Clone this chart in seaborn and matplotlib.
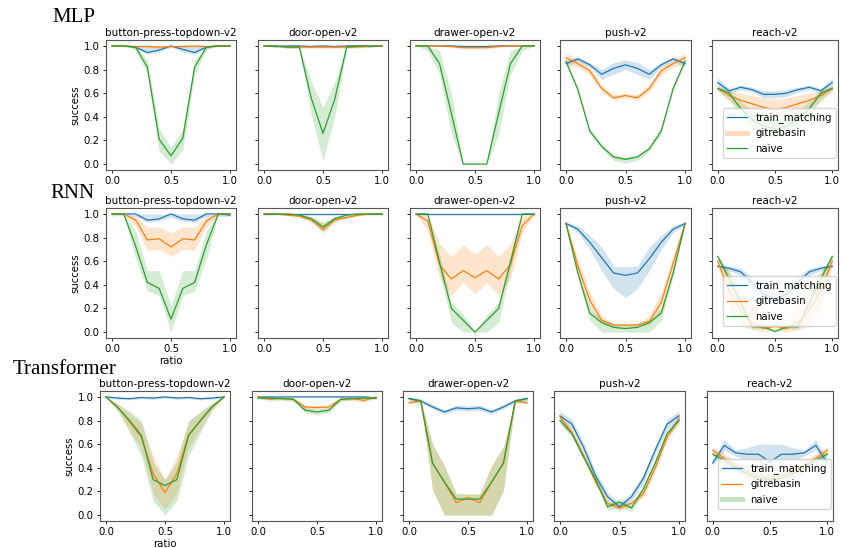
import matplotlib
matplotlib.use("Agg")
import matplotlib.pyplot as plt
from matplotlib.lines import Line2D
import pandas as pd
import seaborn as sns

RATIO = [0.0, 0.1, 0.2, 0.3, 0.4, 0.5, 0.6, 0.7, 0.8, 0.9, 1.0]
ROWS = ["MLP", "RNN", "Transformer"]
TASKS = ["button-press-topdown-v2", "door-open-v2", "drawer-open-v2", "push-v2", "reach-v2"]
METHODS = ["train_matching", "gitrebasin", "naive"]
XTICKS = [0.0, 0.5, 1.0]
YTICKS = [0.0, 0.2, 0.4, 0.6, 0.8, 1.0]

# ---------------- MLP ----------------
MLP_BPT_TM = [1.0, 1.0, 0.99, 0.944, 0.965, 1.0, 0.97, 0.944, 0.99, 1.0, 1.0]
MLP_BPT_TM_LO = [1.0, 1.0, 0.98, 0.93, 0.95, 0.99, 0.95, 0.93, 0.98, 1.0, 1.0]
MLP_BPT_TM_HI = [1.0, 1.0, 1.0, 1.0, 1.0, 1.0, 1.0, 1.0, 1.0, 1.0, 1.0]
MLP_BPT_GR = [1.0, 1.0, 0.995, 0.995, 0.99, 0.995, 0.995, 1.0, 0.995, 1.0, 1.0]
MLP_BPT_GR_LO = [1.0, 0.99, 0.985, 0.985, 0.98, 0.985, 0.985, 0.99, 0.985, 0.99, 1.0]
MLP_BPT_GR_HI = [1.0, 1.0, 1.0, 1.0, 1.0, 1.0, 1.0, 1.0, 1.0, 1.0, 1.0]
MLP_BPT_NV = [1.0, 1.0, 0.99, 0.82, 0.21, 0.07, 0.22, 0.82, 0.99, 1.0, 1.0]
MLP_BPT_NV_LO = [1.0, 1.0, 0.97, 0.76, 0.11, 0.0, 0.12, 0.76, 0.97, 1.0, 1.0]
MLP_BPT_NV_HI = [1.0, 1.0, 1.0, 0.88, 0.30, 0.14, 0.30, 0.88, 1.0, 1.0, 1.0]

MLP_DOOR_TM = [1.0, 0.995, 1.0, 1.0, 0.995, 1.0, 0.995, 1.0, 1.0, 0.995, 1.0]
MLP_DOOR_TM_LO = [1.0, 0.985, 0.99, 0.99, 0.985, 0.99, 0.985, 0.99, 0.99, 0.985, 1.0]
MLP_DOOR_TM_HI = [1.0, 1.0, 1.0, 1.0, 1.0, 1.0, 1.0, 1.0, 1.0, 1.0, 1.0]
MLP_DOOR_GR = [1.0, 1.0, 0.99, 0.99, 0.99, 0.99, 0.99, 0.99, 0.99, 1.0, 1.0]
MLP_DOOR_GR_LO = [1.0, 0.99, 0.98, 0.98, 0.98, 0.98, 0.98, 0.98, 0.98, 0.99, 1.0]
MLP_DOOR_GR_HI = [1.0, 1.0, 1.0, 1.0, 1.0, 1.0, 1.0, 1.0, 1.0, 1.0, 1.0]
MLP_DOOR_NV = [1.0, 1.0, 0.99, 0.99, 0.56, 0.26, 0.55, 0.99, 1.0, 1.0, 1.0]
MLP_DOOR_NV_LO = [1.0, 1.0, 0.98, 0.98, 0.42, 0.03, 0.40, 0.98, 1.0, 1.0, 1.0]
MLP_DOOR_NV_HI = [1.0, 1.0, 1.0, 1.0, 0.70, 0.48, 0.70, 1.0, 1.0, 1.0, 1.0]

MLP_DRAWER_TM = [1.0, 1.0, 1.0, 1.0, 0.995, 0.995, 0.995, 1.0, 1.0, 1.0, 1.0]
MLP_DRAWER_TM_LO = [1.0, 1.0, 1.0, 0.995, 0.99, 0.99, 0.99, 0.995, 1.0, 1.0, 1.0]
MLP_DRAWER_TM_HI = [1.0, 1.0, 1.0, 1.0, 1.0, 1.0, 1.0, 1.0, 1.0, 1.0, 1.0]
MLP_DRAWER_GR = [1.0, 1.0, 1.0, 0.995, 0.985, 0.985, 0.985, 0.995, 1.0, 1.0, 1.0]
MLP_DRAWER_GR_LO = [1.0, 1.0, 0.995, 0.985, 0.975, 0.975, 0.975, 0.985, 0.995, 1.0, 1.0]
MLP_DRAWER_GR_HI = [1.0, 1.0, 1.0, 1.0, 0.995, 0.995, 0.995, 1.0, 1.0, 1.0, 1.0]
MLP_DRAWER_NV = [1.0, 1.0, 0.85, 0.43, 0.0, 0.0, 0.0, 0.43, 0.85, 1.0, 1.0]
MLP_DRAWER_NV_LO = [1.0, 0.96, 0.76, 0.25, 0.0, 0.0, 0.0, 0.25, 0.76, 0.96, 1.0]
MLP_DRAWER_NV_HI = [1.0, 1.0, 0.96, 0.60, 0.0, 0.0, 0.0, 0.60, 0.96, 1.0, 1.0]

MLP_PUSH_TM = [0.85, 0.89, 0.84, 0.76, 0.81, 0.84, 0.81, 0.76, 0.84, 0.89, 0.85]
MLP_PUSH_TM_LO = [0.82, 0.87, 0.82, 0.72, 0.76, 0.80, 0.76, 0.72, 0.82, 0.87, 0.82]
MLP_PUSH_TM_HI = [0.88, 0.91, 0.86, 0.80, 0.86, 0.88, 0.86, 0.80, 0.86, 0.91, 0.88]
MLP_PUSH_GR = [0.90, 0.85, 0.79, 0.64, 0.56, 0.58, 0.56, 0.64, 0.79, 0.85, 0.90]
MLP_PUSH_GR_LO = [0.85, 0.82, 0.75, 0.61, 0.54, 0.56, 0.54, 0.61, 0.75, 0.82, 0.85]
MLP_PUSH_GR_HI = [0.94, 0.88, 0.82, 0.67, 0.59, 0.60, 0.59, 0.67, 0.82, 0.88, 0.94]
MLP_PUSH_NV = [0.87, 0.63, 0.28, 0.15, 0.06, 0.04, 0.06, 0.13, 0.28, 0.64, 0.87]
MLP_PUSH_NV_LO = [0.86, 0.61, 0.26, 0.13, 0.03, 0.01, 0.03, 0.11, 0.26, 0.62, 0.86]
MLP_PUSH_NV_HI = [0.88, 0.65, 0.30, 0.17, 0.08, 0.06, 0.08, 0.15, 0.30, 0.66, 0.88]

MLP_REACH_TM = [0.69, 0.62, 0.65, 0.63, 0.59, 0.59, 0.60, 0.63, 0.65, 0.62, 0.69]
MLP_REACH_TM_LO = [0.66, 0.60, 0.63, 0.61, 0.56, 0.56, 0.57, 0.61, 0.63, 0.60, 0.66]
MLP_REACH_TM_HI = [0.73, 0.64, 0.67, 0.65, 0.62, 0.62, 0.63, 0.65, 0.67, 0.64, 0.73]
MLP_REACH_GR = [0.64, 0.58, 0.54, 0.51, 0.48, 0.46, 0.48, 0.51, 0.54, 0.58, 0.64]
MLP_REACH_GR_LO = [0.62, 0.53, 0.47, 0.45, 0.42, 0.41, 0.42, 0.45, 0.47, 0.53, 0.62]
MLP_REACH_GR_HI = [0.66, 0.62, 0.60, 0.58, 0.56, 0.55, 0.56, 0.58, 0.60, 0.62, 0.66]
MLP_REACH_NV = [0.64, 0.60, 0.47, 0.38, 0.32, 0.30, 0.32, 0.38, 0.47, 0.60, 0.64]
MLP_REACH_NV_LO = [0.62, 0.55, 0.40, 0.30, 0.24, 0.22, 0.24, 0.30, 0.40, 0.55, 0.62]
MLP_REACH_NV_HI = [0.66, 0.63, 0.53, 0.45, 0.40, 0.38, 0.40, 0.45, 0.53, 0.63, 0.66]

# ---------------- RNN ----------------
RNN_BPT_TM = [1.0, 1.0, 1.0, 0.947, 0.958, 1.0, 0.958, 0.947, 1.0, 1.0, 0.99]
RNN_BPT_TM_LO = [0.98, 0.99, 0.98, 0.93, 0.94, 0.97, 0.94, 0.93, 0.98, 0.98, 0.98]
RNN_BPT_TM_HI = [1.0, 1.0, 1.0, 1.0, 1.0, 1.0, 1.0, 1.0, 1.0, 1.0, 1.0]
RNN_BPT_GR = [1.0, 1.0, 0.95, 0.78, 0.79, 0.72, 0.79, 0.78, 0.94, 1.0, 1.0]
RNN_BPT_GR_LO = [1.0, 0.99, 0.90, 0.69, 0.70, 0.64, 0.70, 0.69, 0.89, 0.99, 1.0]
RNN_BPT_GR_HI = [1.0, 1.0, 0.98, 0.89, 0.89, 0.84, 0.89, 0.89, 0.98, 1.0, 1.0]
RNN_BPT_NV = [1.0, 1.0, 0.73, 0.42, 0.37, 0.11, 0.37, 0.42, 0.74, 1.0, 1.0]
RNN_BPT_NV_LO = [1.0, 1.0, 0.62, 0.35, 0.31, 0.0, 0.31, 0.35, 0.62, 1.0, 1.0]
RNN_BPT_NV_HI = [1.0, 1.0, 0.86, 0.52, 0.52, 0.22, 0.52, 0.52, 0.86, 1.0, 1.0]

RNN_DOOR_TM = [1.0, 1.0, 1.0, 1.0, 1.0, 1.0, 1.0, 1.0, 1.0, 1.0, 1.0]
RNN_DOOR_TM_LO = [1.0, 1.0, 1.0, 1.0, 1.0, 1.0, 1.0, 1.0, 1.0, 1.0, 1.0]
RNN_DOOR_TM_HI = [1.0, 1.0, 1.0, 1.0, 1.0, 1.0, 1.0, 1.0, 1.0, 1.0, 1.0]
RNN_DOOR_GR = [1.0, 1.0, 0.99, 0.98, 0.95, 0.87, 0.95, 0.97, 0.99, 1.0, 1.0]
RNN_DOOR_GR_LO = [1.0, 1.0, 0.98, 0.97, 0.93, 0.85, 0.93, 0.96, 0.98, 1.0, 1.0]
RNN_DOOR_GR_HI = [1.0, 1.0, 1.0, 0.99, 0.97, 0.92, 0.97, 0.98, 1.0, 1.0, 1.0]
RNN_DOOR_NV = [1.0, 1.0, 1.0, 0.99, 0.96, 0.89, 0.96, 0.99, 1.0, 1.0, 1.0]
RNN_DOOR_NV_LO = [1.0, 1.0, 1.0, 0.98, 0.94, 0.84, 0.94, 0.98, 1.0, 1.0, 1.0]
RNN_DOOR_NV_HI = [1.0, 1.0, 1.0, 1.0, 0.98, 0.93, 0.98, 1.0, 1.0, 1.0, 1.0]

RNN_DRAWER_TM = [1.0, 1.0, 1.0, 1.0, 1.0, 1.0, 1.0, 1.0, 1.0, 1.0, 1.0]
RNN_DRAWER_TM_LO = [1.0, 1.0, 1.0, 1.0, 1.0, 1.0, 1.0, 1.0, 1.0, 1.0, 1.0]
RNN_DRAWER_TM_HI = [1.0, 1.0, 1.0, 1.0, 1.0, 1.0, 1.0, 1.0, 1.0, 1.0, 1.0]
RNN_DRAWER_GR = [1.0, 0.94, 0.57, 0.45, 0.52, 0.46, 0.52, 0.45, 0.57, 0.90, 1.0]
RNN_DRAWER_GR_LO = [1.0, 0.86, 0.45, 0.31, 0.42, 0.32, 0.42, 0.31, 0.45, 0.84, 1.0]
RNN_DRAWER_GR_HI = [1.0, 1.0, 0.75, 0.64, 0.74, 0.66, 0.74, 0.64, 0.75, 0.98, 1.0]
RNN_DRAWER_NV = [1.0, 1.0, 0.59, 0.20, 0.10, 0.0, 0.10, 0.20, 0.59, 1.0, 1.0]
RNN_DRAWER_NV_LO = [1.0, 1.0, 0.52, 0.08, 0.0, 0.0, 0.0, 0.08, 0.52, 1.0, 1.0]
RNN_DRAWER_NV_HI = [1.0, 1.0, 0.66, 0.25, 0.15, 0.0, 0.15, 0.25, 0.66, 1.0, 1.0]

RNN_PUSH_TM = [0.92, 0.87, 0.76, 0.63, 0.50, 0.48, 0.50, 0.62, 0.76, 0.87, 0.92]
RNN_PUSH_TM_LO = [0.91, 0.84, 0.70, 0.52, 0.37, 0.29, 0.37, 0.52, 0.70, 0.84, 0.91]
RNN_PUSH_TM_HI = [0.93, 0.90, 0.82, 0.72, 0.56, 0.55, 0.56, 0.72, 0.82, 0.90, 0.93]
RNN_PUSH_GR = [0.92, 0.56, 0.27, 0.10, 0.06, 0.06, 0.06, 0.09, 0.25, 0.58, 0.92]
RNN_PUSH_GR_LO = [0.91, 0.50, 0.20, 0.07, 0.05, 0.05, 0.05, 0.06, 0.18, 0.52, 0.91]
RNN_PUSH_GR_HI = [0.93, 0.62, 0.34, 0.14, 0.07, 0.07, 0.07, 0.14, 0.34, 0.64, 0.93]
RNN_PUSH_NV = [0.92, 0.50, 0.16, 0.08, 0.04, 0.03, 0.04, 0.08, 0.16, 0.50, 0.92]
RNN_PUSH_NV_LO = [0.91, 0.47, 0.10, 0.0, 0.0, 0.0, 0.0, 0.0, 0.10, 0.47, 0.91]
RNN_PUSH_NV_HI = [0.93, 0.53, 0.20, 0.11, 0.07, 0.06, 0.07, 0.11, 0.20, 0.53, 0.93]

RNN_REACH_TM = [0.557, 0.54, 0.51, 0.42, 0.32, 0.28, 0.32, 0.42, 0.51, 0.54, 0.557]
RNN_REACH_TM_LO = [0.54, 0.52, 0.48, 0.37, 0.27, 0.23, 0.27, 0.37, 0.48, 0.52, 0.54]
RNN_REACH_TM_HI = [0.57, 0.56, 0.54, 0.47, 0.37, 0.33, 0.37, 0.47, 0.54, 0.56, 0.57]
RNN_REACH_GR = [0.60, 0.35, 0.18, 0.08, 0.03, 0.05, 0.03, 0.08, 0.18, 0.35, 0.60]
RNN_REACH_GR_LO = [0.57, 0.20, 0.06, 0.02, 0.0, 0.03, 0.0, 0.02, 0.06, 0.20, 0.57]
RNN_REACH_GR_HI = [0.63, 0.52, 0.38, 0.25, 0.08, 0.07, 0.08, 0.25, 0.38, 0.52, 0.63]
RNN_REACH_NV = [0.64, 0.45, 0.25, 0.045, 0.045, 0.005, 0.045, 0.045, 0.25, 0.45, 0.64]
RNN_REACH_NV_LO = [0.62, 0.40, 0.20, 0.03, 0.03, 0.0, 0.03, 0.03, 0.20, 0.40, 0.62]
RNN_REACH_NV_HI = [0.66, 0.50, 0.30, 0.06, 0.06, 0.01, 0.06, 0.06, 0.30, 0.50, 0.66]

# ---------------- Transformer ----------------
TRF_BPT_TM = [1.0, 0.99, 0.985, 0.995, 0.99, 1.0, 0.99, 0.995, 0.985, 0.99, 1.0]
TRF_BPT_TM_LO = [0.99, 0.98, 0.975, 0.985, 0.98, 0.99, 0.98, 0.985, 0.975, 0.98, 0.99]
TRF_BPT_TM_HI = [1.0, 1.0, 0.995, 1.0, 1.0, 1.0, 1.0, 1.0, 0.995, 1.0, 1.0]
TRF_BPT_GR = [1.0, 0.915, 0.79, 0.66, 0.35, 0.19, 0.35, 0.68, 0.80, 0.915, 1.0]
TRF_BPT_GR_LO = [1.0, 0.89, 0.72, 0.55, 0.18, 0.05, 0.18, 0.57, 0.73, 0.89, 1.0]
TRF_BPT_GR_HI = [1.0, 0.94, 0.86, 0.78, 0.50, 0.30, 0.50, 0.79, 0.87, 0.94, 1.0]
TRF_BPT_NV = [1.0, 0.91, 0.80, 0.675, 0.30, 0.25, 0.30, 0.675, 0.80, 0.92, 1.0]
TRF_BPT_NV_LO = [1.0, 0.88, 0.70, 0.50, 0.12, 0.0, 0.12, 0.50, 0.70, 0.89, 1.0]
TRF_BPT_NV_HI = [1.0, 0.94, 0.88, 0.80, 0.45, 0.30, 0.45, 0.80, 0.88, 0.95, 1.0]

TRF_DOOR_TM = [1.0, 1.0, 1.0, 1.0, 1.0, 1.0, 1.0, 1.0, 1.0, 1.0, 0.99]
TRF_DOOR_TM_LO = [0.995, 0.995, 0.995, 0.995, 0.995, 0.995, 0.995, 0.995, 0.995, 0.995, 0.985]
TRF_DOOR_TM_HI = [1.0, 1.0, 1.0, 1.0, 1.0, 1.0, 1.0, 1.0, 1.0, 1.0, 0.995]
TRF_DOOR_GR = [1.0, 0.98, 0.99, 0.98, 0.915, 0.91, 0.915, 0.98, 0.985, 0.97, 1.0]
TRF_DOOR_GR_LO = [0.99, 0.965, 0.975, 0.965, 0.90, 0.895, 0.90, 0.965, 0.97, 0.955, 0.99]
TRF_DOOR_GR_HI = [1.0, 0.995, 1.0, 0.995, 0.93, 0.925, 0.93, 0.995, 1.0, 0.985, 1.0]
TRF_DOOR_NV = [0.99, 0.99, 0.985, 0.98, 0.887, 0.873, 0.887, 0.98, 0.985, 0.99, 0.99]
TRF_DOOR_NV_LO = [0.98, 0.98, 0.975, 0.965, 0.865, 0.85, 0.865, 0.965, 0.975, 0.98, 0.98]
TRF_DOOR_NV_HI = [1.0, 1.0, 0.995, 0.995, 0.91, 0.895, 0.91, 0.995, 0.995, 1.0, 1.0]

TRF_DRAWER_TM = [0.986, 0.966, 0.915, 0.873, 0.907, 0.90, 0.907, 0.873, 0.915, 0.966, 0.986]
TRF_DRAWER_TM_LO = [0.97, 0.95, 0.90, 0.855, 0.885, 0.88, 0.885, 0.855, 0.90, 0.95, 0.97]
TRF_DRAWER_TM_HI = [1.0, 0.985, 0.935, 0.89, 0.93, 0.925, 0.93, 0.89, 0.935, 0.985, 1.0]
TRF_DRAWER_GR = [0.95, 0.966, 0.44, 0.28, 0.104, 0.15, 0.104, 0.28, 0.44, 0.966, 0.95]
TRF_DRAWER_GR_LO = [0.94, 0.95, 0.21, 0.0, 0.0, 0.0, 0.0, 0.0, 0.21, 0.95, 0.94]
TRF_DRAWER_GR_HI = [0.96, 0.98, 0.60, 0.42, 0.18, 0.18, 0.18, 0.42, 0.58, 0.98, 0.96]
TRF_DRAWER_NV = [0.986, 0.966, 0.44, 0.28, 0.135, 0.135, 0.135, 0.28, 0.44, 0.966, 0.986]
TRF_DRAWER_NV_LO = [0.97, 0.95, 0.21, 0.0, 0.0, 0.0, 0.0, 0.0, 0.21, 0.95, 0.97]
TRF_DRAWER_NV_HI = [1.0, 0.98, 0.60, 0.42, 0.18, 0.18, 0.18, 0.42, 0.58, 0.98, 1.0]

TRF_PUSH_TM = [0.84, 0.77, 0.57, 0.33, 0.155, 0.07, 0.155, 0.31, 0.55, 0.77, 0.84]
TRF_PUSH_TM_LO = [0.80, 0.73, 0.53, 0.29, 0.12, 0.04, 0.12, 0.27, 0.51, 0.73, 0.80]
TRF_PUSH_TM_HI = [0.88, 0.81, 0.61, 0.37, 0.19, 0.10, 0.19, 0.35, 0.59, 0.81, 0.88]
TRF_PUSH_GR = [0.83, 0.70, 0.50, 0.28, 0.10, 0.06, 0.10, 0.18, 0.40, 0.66, 0.82]
TRF_PUSH_GR_LO = [0.80, 0.67, 0.47, 0.25, 0.08, 0.04, 0.08, 0.15, 0.37, 0.63, 0.79]
TRF_PUSH_GR_HI = [0.86, 0.73, 0.53, 0.31, 0.12, 0.08, 0.12, 0.21, 0.43, 0.69, 0.85]
TRF_PUSH_NV = [0.80, 0.69, 0.49, 0.30, 0.07, 0.11, 0.06, 0.22, 0.44, 0.69, 0.80]
TRF_PUSH_NV_LO = [0.77, 0.66, 0.46, 0.27, 0.04, 0.07, 0.03, 0.19, 0.41, 0.66, 0.77]
TRF_PUSH_NV_HI = [0.83, 0.72, 0.52, 0.33, 0.10, 0.14, 0.09, 0.25, 0.47, 0.72, 0.83]

TRF_REACH_TM = [0.44, 0.59, 0.527, 0.515, 0.515, 0.45, 0.515, 0.515, 0.527, 0.59, 0.44]
TRF_REACH_TM_LO = [0.42, 0.55, 0.50, 0.46, 0.45, 0.40, 0.45, 0.46, 0.50, 0.55, 0.42]
TRF_REACH_TM_HI = [0.47, 0.64, 0.55, 0.57, 0.60, 0.60, 0.60, 0.57, 0.55, 0.64, 0.47]
TRF_REACH_GR = [0.55, 0.48, 0.42, 0.37, 0.33, 0.30, 0.33, 0.37, 0.42, 0.48, 0.55]
TRF_REACH_GR_LO = [0.52, 0.44, 0.38, 0.33, 0.29, 0.26, 0.29, 0.33, 0.38, 0.44, 0.52]
TRF_REACH_GR_HI = [0.58, 0.52, 0.46, 0.41, 0.37, 0.34, 0.37, 0.41, 0.46, 0.52, 0.58]
TRF_REACH_NV = [0.515, 0.465, 0.40, 0.35, 0.31, 0.30, 0.31, 0.35, 0.40, 0.465, 0.515]
TRF_REACH_NV_LO = [0.49, 0.43, 0.36, 0.31, 0.27, 0.26, 0.27, 0.31, 0.36, 0.43, 0.49]
TRF_REACH_NV_HI = [0.54, 0.50, 0.44, 0.39, 0.35, 0.34, 0.35, 0.39, 0.44, 0.50, 0.54]

G = globals()
PREFIX = {"MLP": "MLP", "RNN": "RNN", "Transformer": "TRF"}
TASKKEY = ["BPT", "DOOR", "DRAWER", "PUSH", "REACH"]
MKEY = ["TM", "GR", "NV"]

# ---------------- layout / style (pixels) ----------------
W, H = 843, 548
FS = 7.3
ROW_TOP = [40, 208, 391]
AX_H = 130
ROW_LEFTS = [[106, 258, 410, 560, 712],
             [106, 258, 410, 560, 712],
             [100, 252, 403, 554, 707]]
AX_W = [130, 130, 130, 131, 126]
ROW_LABEL_POS = [(52, 17), (50, 193), (13, 370)]
# which legend entry is drawn as a light, wide band-like handle in each row
LEGEND_SOFT = [1, None, 2]

palette = sns.color_palette("tab10")[:3]
plt.rcParams["font.family"] = ["DejaVu Sans"]

fig = plt.figure(figsize=(W / 100, H / 100), dpi=100)

for r, row in enumerate(ROWS):
    fig.text(ROW_LABEL_POS[r][0] / W, 1 - ROW_LABEL_POS[r][1] / H, row,
             family="Liberation Serif", fontsize=15, va="center", ha="left")
    for c, task in enumerate(TASKS):
        left = ROW_LEFTS[r][c]
        ax = fig.add_axes([left / W, 1 - (ROW_TOP[r] + AX_H) / H, AX_W[c] / W, AX_H / H])
        frames = []
        for m, method in enumerate(METHODS):
            key = f"{PREFIX[row]}_{TASKKEY[c]}_{MKEY[m]}"
            frames.append(pd.DataFrame({"ratio": RATIO, "success": G[key],
                                        "lo": G[key + "_LO"], "hi": G[key + "_HI"],
                                        "method": method}))
        df = pd.concat(frames, ignore_index=True)
        for m, method in enumerate(METHODS):
            sub = df[df["method"] == method]
            ax.fill_between(sub["ratio"], sub["lo"], sub["hi"], color=palette[m],
                            alpha=0.2, linewidth=0)
        sns.lineplot(data=df, x="ratio", y="success", hue="method", hue_order=METHODS,
                     palette=palette, errorbar=None, linewidth=0.9, ax=ax,
                     legend=(c == 4))
        ax.set_xlim(-0.05, 1.05)
        ax.set_ylim(-0.05, 1.05)
        ax.set_xticks(XTICKS)
        ax.set_yticks(YTICKS)
        ax.tick_params(labelsize=FS, length=2.5, width=0.6, pad=2)
        for s in ax.spines.values():
            s.set_linewidth(0.8)
            s.set_color("#555555")
        ax.set_title(task, fontsize=FS + 0.2, pad=3)
        if c == 0:
            ax.set_ylabel("success", fontsize=FS, labelpad=2)
        else:
            ax.set_ylabel("")
            ax.set_yticklabels([])
        if c == 0 and r > 0:
            ax.set_xlabel("ratio", fontsize=FS, labelpad=1)
        else:
            ax.set_xlabel("")
        if c == 4:
            handles = []
            for m, method in enumerate(METHODS):
                if LEGEND_SOFT[r] == m:
                    handles.append(Line2D([], [], color=palette[m], lw=3.5, alpha=0.3))
                else:
                    handles.append(Line2D([], [], color=palette[m], lw=0.9))
            ax.legend(handles, METHODS, loc="lower right", bbox_to_anchor=(1.0, 0.08),
                      fontsize=FS, borderaxespad=0.2)

fig.savefig("out.png", dpi=100)
